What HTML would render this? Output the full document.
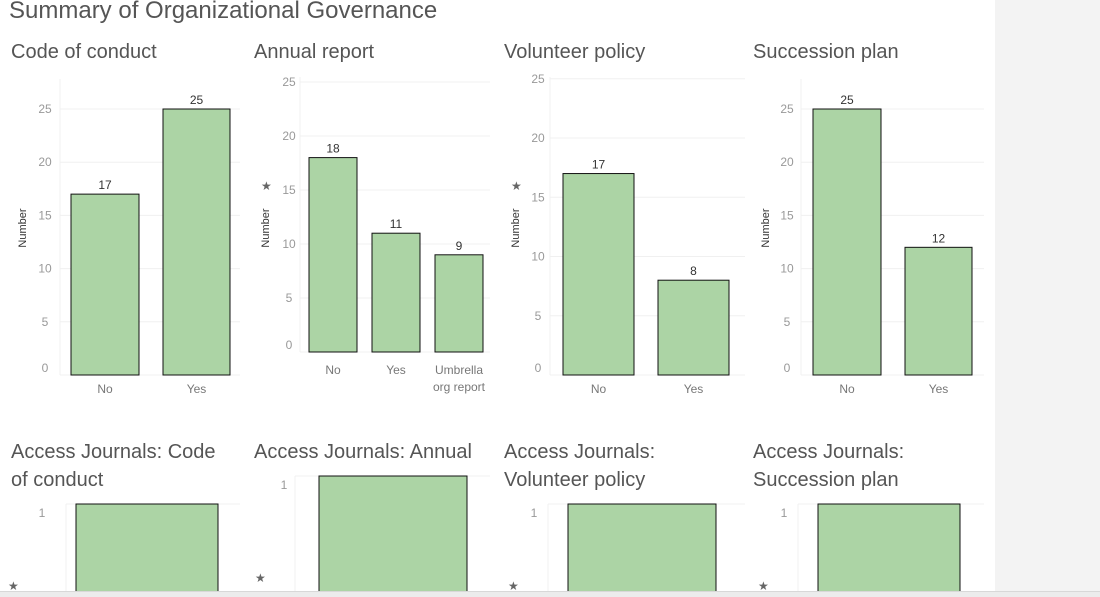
<!DOCTYPE html>
<html><head><meta charset="utf-8"><style>
html,body{margin:0;width:1100px;height:597px;overflow:hidden}
body{background:#fff;font-family:"Liberation Sans","DejaVu Sans",sans-serif;position:relative}
.t{position:absolute;color:#555;white-space:nowrap}
</style></head><body>
<div style="position:absolute;left:995px;top:0;width:105px;height:597px;background:#f3f3f3"></div>
<div class="t" style="left:9px;top:-3px;font-size:24px">Summary of Organizational Governance</div>
<div class="t" style="left:11px;top:41px;font-size:20px">Code of conduct</div>
<div class="t" style="left:254px;top:41px;font-size:20px">Annual report</div>
<div class="t" style="left:504px;top:41px;font-size:20px">Volunteer policy</div>
<div class="t" style="left:753px;top:41px;font-size:20px">Succession plan</div>
<div class="t" style="left:11px;top:438px;font-size:20px;line-height:28px">Access Journals: Code<br>of conduct</div>
<div class="t" style="left:254px;top:438px;font-size:20px;line-height:28px">Access Journals: Annual</div>
<div class="t" style="left:504px;top:438px;font-size:20px;line-height:28px">Access Journals:<br>Volunteer policy</div>
<div class="t" style="left:753px;top:438px;font-size:20px;line-height:28px">Access Journals:<br>Succession plan</div>
<svg id="c" width="1100" height="597" style="position:absolute;left:0;top:0;overflow:hidden"></svg>
<div style="position:absolute;left:0;top:591px;width:1100px;height:5px;background:#ececec;border-top:1px solid #d8d8d8"></div>
<script>
const catsCode=["No","Yes"];
const valsCode=[17,25];
const catsAnnual=["No","Yes","Umbrella|org report"];
const valsAnnual=[18,11,9];
const catsVolunteer=["No","Yes"];
const valsVolunteer=[17,8];
const catsSuccession=["No","Yes"];
const valsSuccession=[25,12];
const yTicks=[0,5,10,15,20,25];
const accessVals=[1,1,1,1];
const NS="http://www.w3.org/2000/svg";
const svg=document.getElementById('c');
function mk(t,a,txt){const e=document.createElementNS(NS,t);for(const k in a)e.setAttribute(k,a[k]);if(txt!=null)e.textContent=txt;svg.appendChild(e);return e;}
const panels=[
 {n:"code",cats:catsCode,vals:valsCode,x0:60,x1:240,base:375,scale:10.64,top:79,bars:[[71,139],[163,230]],lx:45,nx:22,catY:393,pin:false},
 {n:"annual",cats:catsAnnual,vals:valsAnnual,x0:300,x1:490,base:352,scale:10.8,top:77,bars:[[309,357],[372,420],[435,483]],lx:289,nx:265,catY:374,pin:true},
 {n:"volunteer",cats:catsVolunteer,vals:valsVolunteer,x0:550,x1:745,base:375,scale:11.85,top:77,bars:[[563,634],[658,729]],lx:538,nx:515,catY:393,pin:true},
 {n:"succession",cats:catsSuccession,vals:valsSuccession,x0:801,x1:984,base:375,scale:10.64,top:79,bars:[[813,881],[905,972]],lx:787,nx:765,catY:393,pin:false}
];
panels.forEach(p=>{
 const y=v=>p.base-v*p.scale;
 let e=mk('line',{x1:p.x0,x2:p.x0,y1:p.top,y2:p.base,stroke:'#f0f0f0'});
 
 yTicks.forEach(t=>{
  const yy=y(t);
  e=mk('line',{x1:p.x0,x2:p.x1,y1:yy,y2:yy,stroke:'#f0f0f0'});
  
  e=mk('text',{x:p.lx,y:Math.min(yy+4,p.base-3),fill:'#999','font-size':12,'text-anchor':'middle'},String(t));
  
 });
 e=mk('text',{x:p.nx,y:228,fill:'#333','font-size':11,'text-anchor':'middle',transform:`rotate(-90 ${p.nx} 228)`,dy:4},'Number');
 
 if(p.pin){e=mk('text',{x:p.nx-4,y:190,fill:'#666','font-size':12},'★');}
 p.vals.forEach((v,i)=>{
  const [a,b]=p.bars[i];const yy=y(v);
  e=mk('rect',{x:a,y:yy,width:b-a,height:p.base-yy,fill:'#acd4a5',stroke:'#111','stroke-width':1});
  
  e=mk('text',{x:(a+b)/2,y:yy-5,fill:'#333','font-size':12,'text-anchor':'middle'},String(v));
  
  p.cats[i].split('|').forEach((ln,j)=>{
   e=mk('text',{x:(a+b)/2,y:p.catY+j*17,fill:'#777','font-size':12,'text-anchor':'middle'},ln);
   
  });
 });
});
const access=[
 {n:"access-code",x0:66,x1:240,barA:76,barB:218,top:504,lx:42,px:8},
 {n:"access-annual",x0:295,x1:490,barA:319,barB:467,top:476,lx:284,px:255},
 {n:"access-volunteer",x0:548,x1:745,barA:568,barB:716,top:504,lx:534,px:508},
 {n:"access-succession",x0:798,x1:984,barA:818,barB:960,top:504,lx:784,px:758}
];
access.forEach((p,i)=>{
 const y=v=>700-v*(700-p.top);
 let e=mk('line',{x1:p.x0,x2:p.x1,y1:y(1),y2:y(1),stroke:'#f0f0f0'});
 
 e=mk('line',{x1:p.x0,x2:p.x0,y1:y(1),y2:591,stroke:'#f0f0f0'});
 
 e=mk('text',{x:p.lx,y:y(1)+13,fill:'#999','font-size':12,'text-anchor':'middle'},'1');
 
 const top=y(accessVals[i]);
 e=mk('rect',{x:p.barA,y:top,width:p.barB-p.barA,height:Math.max(0,596-top),fill:'#acd4a5',stroke:'#111'});
 
 e=mk('text',{x:p.px,y:i==1?582:590,fill:'#666','font-size':12},'★');
 
});
</script>
</body></html>
